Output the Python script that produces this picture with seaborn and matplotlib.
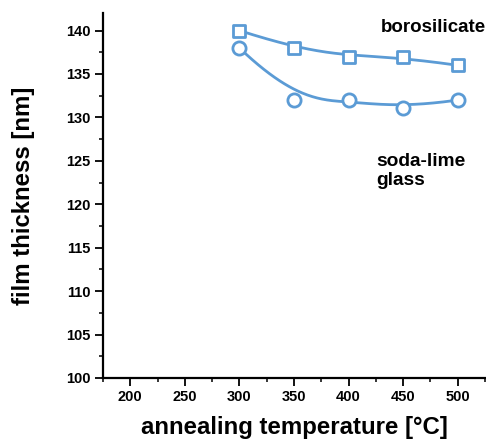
import numpy as np
import pandas as pd
import seaborn as sns
import matplotlib
matplotlib.use("Agg")
import matplotlib.pyplot as plt
from matplotlib.ticker import MultipleLocator

# Film thickness vs annealing temperature for two substrates
temperature = [300, 350, 400, 450, 500]
borosilicate = [140.0, 138.0, 137.0, 136.9, 136.0]
soda_lime = [138.0, 132.0, 132.0, 131.1, 132.0]

x_ticks = [200, 250, 300, 350, 400, 450, 500]
y_ticks = [100, 105, 110, 115, 120, 125, 130, 135, 140]

BLUE = "#5b9bd5"

sns.set_theme(style="ticks")
plt.rcParams["font.family"] = ["Liberation Sans", "DejaVu Sans"]
plt.rcParams["font.weight"] = "bold"
plt.rcParams["text.color"] = "black"
plt.rcParams["axes.labelcolor"] = "black"
plt.rcParams["xtick.color"] = "black"
plt.rcParams["ytick.color"] = "black"


def bspline(xs, ys, n=200):
    """Clamped cubic B-spline using the data points as control points."""
    pts = np.column_stack([xs, ys]).astype(float)
    k = 3
    m = len(pts)
    knots = np.concatenate([np.zeros(k), np.linspace(0, 1, m - k + 1), np.ones(k)])
    ts = np.linspace(0, 1, n)
    out = []
    for t in ts:
        if t >= 1.0:
            out.append(pts[-1])
            continue
        j = np.searchsorted(knots, t, side="right") - 1
        d = [pts[j - k + i].copy() for i in range(k + 1)]
        for r in range(1, k + 1):
            for i in range(k, r - 1, -1):
                idx = i + j - k
                a = (t - knots[idx]) / (knots[idx + k + 1 - r] - knots[idx])
                d[i] = (1 - a) * d[i - 1] + a * d[i]
        out.append(d[k])
    out = np.array(out)
    return out[:, 0], out[:, 1]


df = pd.DataFrame({"temperature": temperature,
                   "borosilicate": borosilicate,
                   "soda-lime glass": soda_lime})

fig = plt.figure(figsize=(4.86, 4.40), dpi=100)
ax = fig.add_axes([0.212, 0.141, 0.788, 0.829])

for col, marker, ms in [("borosilicate", "s", 8.5), ("soda-lime glass", "o", 9.5)]:
    sx, sy = bspline(df["temperature"], df[col])
    sns.lineplot(x=sx, y=sy, ax=ax, color=BLUE, linewidth=2.0, zorder=2)
    sns.scatterplot(data=df, x="temperature", y=col, ax=ax, marker=marker,
                    s=ms ** 2, facecolor="white", edgecolor=BLUE,
                    linewidth=2.0, zorder=3)

ax.set_xlim(175, 526)
ax.set_ylim(100, 142)
ax.set_xticks(x_ticks)
ax.set_yticks(y_ticks)
ax.xaxis.set_minor_locator(MultipleLocator(25))
ax.yaxis.set_minor_locator(MultipleLocator(2.5))
ax.tick_params(which="major", direction="out", length=6, width=1.3,
               labelsize=10.5, color="black", labelcolor="black", pad=3)
ax.tick_params(which="minor", direction="out", length=3, width=1.1,
               color="black")
for lab in ax.get_xticklabels() + ax.get_yticklabels():
    lab.set_fontweight("bold")

for side in ["top", "right"]:
    ax.spines[side].set_visible(False)
for side in ["left", "bottom"]:
    ax.spines[side].set_linewidth(1.6)
    ax.spines[side].set_color("black")

ax.set_xlabel("annealing temperature [°C]", fontsize=17.3, fontweight="bold",
              labelpad=8, color="black")
ax.set_ylabel("film thickness [nm]", fontsize=17.3, fontweight="bold",
              labelpad=22, color="black")

ax.text(1.0, 0.962, "borosilicate", transform=ax.transAxes,
        fontsize=13.5, fontweight="bold", ha="right", va="center",
        color="black")
ax.text(0.714, 0.567, "soda-lime\nglass", transform=ax.transAxes,
        fontsize=13.8, fontweight="bold", ha="left", va="center",
        linespacing=1.2, color="black")

fig.savefig("out.png", dpi=100)
